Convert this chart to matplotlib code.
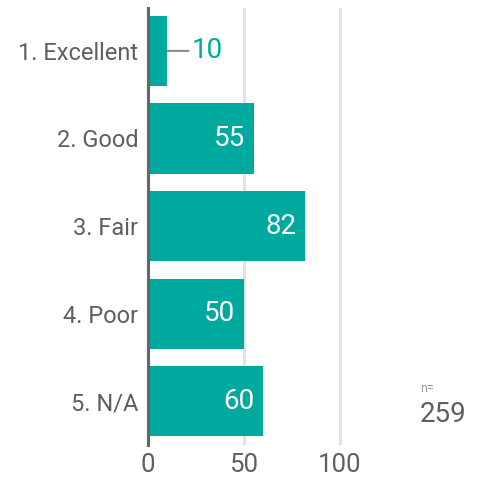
import matplotlib.pyplot as plt

plt.rcParams['font.family'] = ['Roboto', 'DejaVu Sans']

# dados
categorias = ["1. Excellent", "2. Good", "3. Fair", "4. Poor", "5. N/A"]
valores = [10, 55, 82, 50, 60]
n_total = 259

teal = "#00a99d"
cinza = "#5f5f5f"

fig = plt.figure(figsize=(4.83, 4.80), dpi=100)
ax = fig.add_axes([148/483, 1 - 445/480, (410 - 148)/483, (445 - 8)/480])

y = range(len(categorias))
ax.barh(y, valores, height=0.8, color=teal, zorder=3)

ax.set_ylim(4.5, -0.49)
ax.set_xlim(0, (410 - 148) / 1.92)
ax.set_xticks([0, 50, 100])
ax.set_yticks(list(y))
ax.set_yticklabels(categorias)

for i, v in enumerate(valores):
    if v < 20:
        # rótulo fora da barra com linha guia
        ax.annotate(str(v), xy=(v, i), xytext=(v + 12.5, i), color=teal,
                    fontsize=20, va="center", ha="left",
                    arrowprops=dict(arrowstyle="-", color="#8a8a8a", lw=1.5,
                                    shrinkA=0, shrinkB=0))
    else:
        ax.text(v - 4.5, i, str(v), color="white", fontsize=20,
                va="center", ha="right", zorder=4)

ax.grid(axis="x", color="#e3e3e3", lw=2.2, zorder=0)
for s in ["top", "right", "bottom"]:
    ax.spines[s].set_visible(False)
ax.spines["left"].set_color("#666666")
ax.spines["left"].set_linewidth(2.2)
ax.spines["left"].set_zorder(5)
ax.tick_params(axis="y", length=0, labelsize=17, labelcolor=cinza, pad=7)
ax.tick_params(axis="x", length=0, labelsize=18.5, labelcolor=cinza, pad=6)

fig.text(420/483, 1 - 389/480, "n=", fontsize=9, color="#9a9a9a", va="center")
fig.text(420/483, 1 - 414/480, str(n_total), fontsize=20, color=cinza, va="center")

fig.savefig("out.png", dpi=100)
